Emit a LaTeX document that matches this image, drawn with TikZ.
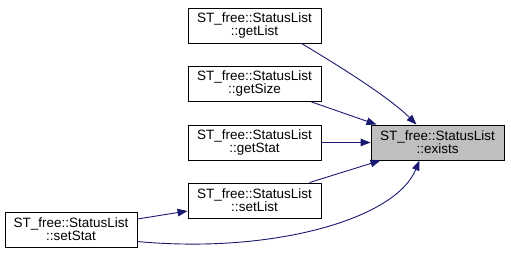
\documentclass[tikz,border=0pt]{standalone}
\usepackage{fontspec}
\setmainfont{Liberation Sans}
\usetikzlibrary{arrows.meta}
\definecolor{edgeblue}{HTML}{191970}
\definecolor{focusgray}{HTML}{BFBFBF}
\begin{document}
\begin{tikzpicture}[x=1pt,y=-1pt,
  fnbox/.style={draw=black,line width=0.9pt,fill=white,rectangle,
    minimum width=133pt,minimum height=35pt,inner sep=0pt,align=center,
    font=\fontsize{13.5}{13}\selectfont},
  focusbox/.style={fnbox,fill=focusgray},
  call/.style={draw=edgeblue,line width=0.9pt,
    -{Triangle[length=10pt,width=7.5pt]},fill=none}]
\useasboundingbox (0,0) rectangle (511,267);
% caller functions
\node[fnbox] (getList) at (254.5,25.5) {ST\_free::StatusList\\::getList};
\node[fnbox] (getSize) at (254.5,84) {ST\_free::StatusList\\::getSize};
\node[fnbox] (getStat) at (254.5,142.5) {ST\_free::StatusList\\::getStat};
\node[fnbox] (setList) at (254.5,200.5) {ST\_free::StatusList\\::setList};
\node[fnbox,minimum width=132pt] (setStat) at (71,229.5) {ST\_free::StatusList\\::setStat};
% the called function
\node[focusbox] (exists) at (437.5,142.5) {ST\_free::StatusList\\::exists};
% call edges
\draw[call] ([xshift=47pt]getList.south) .. controls +(35,21) and +(-28,-28) .. ([xshift=-21pt]exists.north);
\draw[call] ([xshift=57pt]getSize.south) -- ([xshift=-61pt]exists.north);
\draw[call] (getStat.east) -- (exists.west);
\draw[call] ([xshift=55pt]setList.north) -- ([xshift=-57pt]exists.south);
\draw[call] ([yshift=10.5pt]setStat.east) -- ([yshift=-10.5pt]setList.west);
\draw[call] ([yshift=-12pt]setStat.east) .. controls (270,254) and (395,220) .. ([xshift=-18pt]exists.south);
\end{tikzpicture}
\end{document}
